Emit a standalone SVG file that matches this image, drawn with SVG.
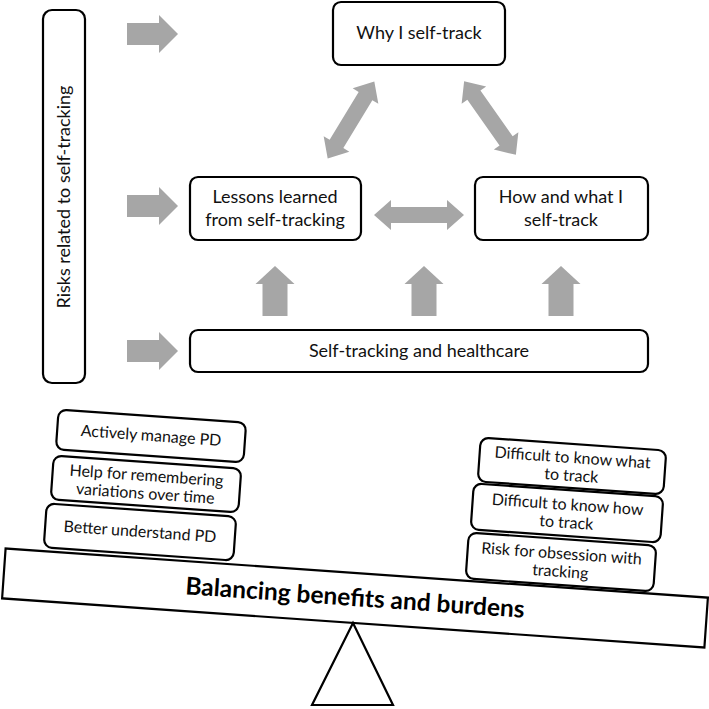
<svg xmlns="http://www.w3.org/2000/svg" width="709" height="709" viewBox="0 0 709 709">
<style>
.box{fill:#fff;stroke:#000;stroke-width:2.2}
.t{font-family:Lato,"Open Sans",sans-serif;font-size:18px;fill:#111;text-anchor:middle}
.s{font-family:Lato,"Open Sans",sans-serif;font-size:16px;fill:#111;text-anchor:middle}
.arr{fill:#a6a6a6}
</style>
<defs>
<path id="ra" d="M0,-11 H32 V-19 L51,0 L32,19 V11 H0 Z"/>
<path id="ua" d="M-12.5,0 V-32 H-19.5 L0,-50 L19.5,-32 H12.5 V0 Z"/>
<path id="da" d="M-45,0 L-28,-15 V-8 H28 V-15 L45,0 L28,15 V8 H-28 V15 Z"/>
</defs>
<g id="connectors" class="arr">
<use href="#ra" transform="translate(127,34)"/>
<use href="#ra" transform="translate(127,206)"/>
<use href="#ra" transform="translate(127,351)"/>
<use href="#ua" transform="translate(275,316)"/>
<use href="#ua" transform="translate(424,316)"/>
<use href="#ua" transform="translate(561,316)"/>
<use href="#da" transform="translate(419,215)"/>
<use href="#da" transform="translate(351,120) rotate(-58.8)"/>
<use href="#da" transform="translate(490,118) rotate(54.9)"/>
</g>
<g id="risks">
<rect class="box" x="43" y="10" width="42" height="373" rx="9"/>
<text class="t" transform="translate(70,197) rotate(-90)">Risks related to self-tracking</text>
</g>
<g id="why">
<rect class="box" x="333" y="2" width="172" height="63" rx="8"/>
<text class="t" x="419" y="39">Why I self-track</text>
</g>
<g id="lessons">
<rect class="box" x="190" y="177" width="171" height="63" rx="8"/>
<text class="t" x="275" y="203">Lessons learned</text>
<text class="t" x="275" y="226">from self-tracking</text>
</g>
<g id="how">
<rect class="box" x="475" y="177" width="173" height="63" rx="8"/>
<text class="t" x="561" y="203">How and what I</text>
<text class="t" x="561" y="226">self-track</text>
</g>
<g id="healthcare">
<rect class="box" x="190" y="330" width="458" height="42" rx="8"/>
<text class="t" x="419" y="357">Self-tracking and healthcare</text>
</g>
<g id="plank" transform="translate(355,598) rotate(4)">
<rect class="box" x="-352" y="-25" width="704" height="50"/>
<text x="0" y="8" style="font-family:Lato,'Open Sans',sans-serif;font-size:24.5px;font-weight:bold;fill:#000;text-anchor:middle">Balancing benefits and burdens</text>
</g>
<g id="fulcrum">
<polygon class="box" points="353,623 312,705 393,705"/>
</g>
<g id="actively" transform="translate(151,436) rotate(4)">
<rect class="box" x="-94" y="-20" width="188" height="40" rx="8"/>
<text class="s" x="0" y="5">Actively manage PD</text>
</g>
<g id="help" transform="translate(146,484) rotate(4)">
<rect class="box" x="-94" y="-22" width="188" height="44" rx="8"/>
<text class="s" x="0" y="-3">Help for remembering</text>
<text class="s" x="0" y="15">variations over time</text>
</g>
<g id="better" transform="translate(140,532) rotate(4)">
<rect class="box" x="-95" y="-22" width="190" height="44" rx="8"/>
<text class="s" x="0" y="5">Better understand PD</text>
</g>
<g id="what" transform="translate(572,466) rotate(4)">
<rect class="box" x="-93" y="-22" width="186" height="44" rx="8"/>
<text class="s" x="0" y="-3">Difficult to know what</text>
<text class="s" x="0" y="15">to track</text>
</g>
<g id="howto" transform="translate(567,513) rotate(4)">
<rect class="box" x="-95" y="-23" width="190" height="46" rx="8"/>
<text class="s" x="0" y="-3">Difficult to know how</text>
<text class="s" x="0" y="15">to track</text>
</g>
<g id="obsession" transform="translate(561,562) rotate(4)">
<rect class="box" x="-94" y="-23" width="188" height="46" rx="8"/>
<text class="s" x="0" y="-3">Risk for obsession with</text>
<text class="s" x="0" y="15">tracking</text>
</g>
</svg>
